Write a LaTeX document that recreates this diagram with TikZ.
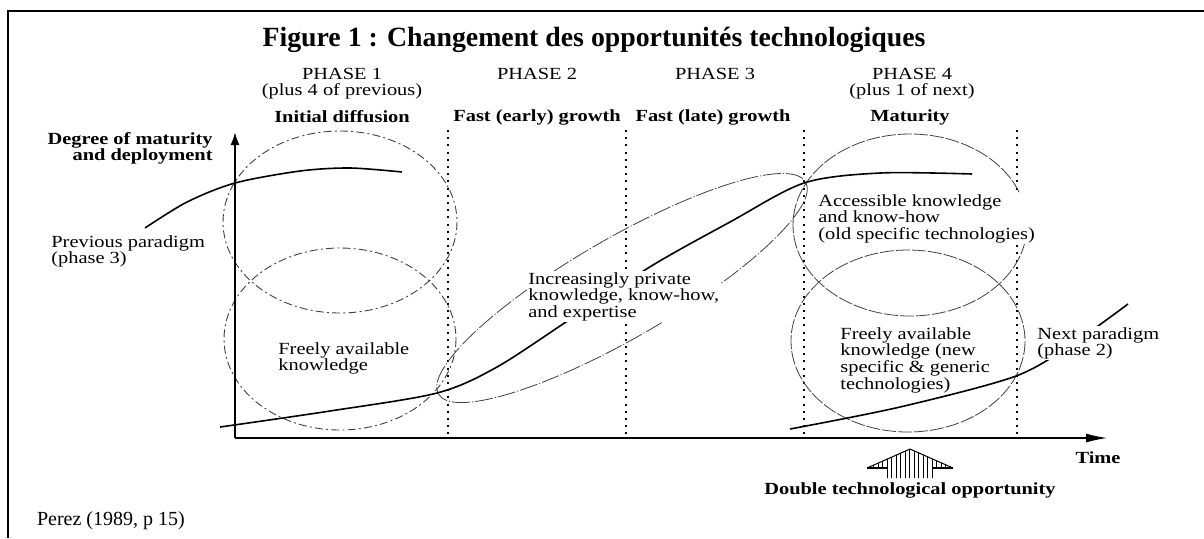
\documentclass[tikz,border=0pt]{standalone}
\usepackage{fontspec}
\setmainfont{Liberation Serif}
\newfontfamily\scanfont[FakeStretch=1.2]{Liberation Serif}
\usetikzlibrary{arrows.meta}

\tikzset{
  phasedot/.style={line width=0.6pt, dash pattern=on 1pt off 2.6pt},
  bubble/.style={line width=0.45pt, black!75, dash pattern=on 4pt off 1.6pt on 1pt off 1.6pt},
  bubblefine/.style={line width=0.4pt, black!75, dash pattern=on 7pt off 1pt},
  privline/.style={line width=0.4pt, black!75, dash pattern=on 9pt off 1pt on 0.6pt off 1pt},
  curve/.style={line width=0.8pt},
  lab/.style={font=\scanfont\fontsize{8.5}{8.3}\selectfont, align=left, inner sep=0.5pt},
  labbold/.style={lab, font=\scanfont\bfseries\fontsize{8.5}{8.3}\selectfont},
}

\begin{document}
\begin{tikzpicture}[x=0.5pt, y=-0.5pt]
				\useasboundingbox (0,0) rectangle (1204,538);
				% frame and title
				\draw [line width=1pt] (8,538) -- (8,11) -- (1204,11);
				\node [font=\bfseries\fontsize{13.9}{16}\selectfont] (title) at (594,40) {Figure 1 : Changement des opportunités technologiques};

				% phase headers
				\node [lab] (ph1) at (342,74) {PHASE 1};
				\node [lab] (ph1b) at (342,91) {(plus 4 of previous)};
				\node [labbold] (ph1c) at (342,117) {Initial diffusion};
				\node [lab] (ph2) at (537,74) {PHASE 2};
				\node [labbold] (ph2c) at (537,117) {Fast (early) growth};
				\node [lab] (ph3) at (715,74) {PHASE 3};
				\node [labbold] (ph3c) at (713,117) {Fast (late) growth};
				\node [lab] (ph4) at (912,74) {PHASE 4};
				\node [lab] (ph4b) at (912,91) {(plus 1 of next)};
				\node [labbold] (ph4c) at (910,117) {Maturity};

				% phase separators
				\foreach \sx in {448,626,804,1017}
					\draw [phasedot] (\sx,130) -- (\sx,434);

				% knowledge bubbles
				\draw [bubble] (340,222) ellipse [x radius=117, y radius=91];
				\draw [bubble] (340,339) ellipse [x radius=116, y radius=91];
				\draw [bubblefine] (910,225) ellipse [x radius=117, y radius=91];
				\draw [bubblefine] (908,341) ellipse [x radius=117, y radius=91];
				\draw [privline, rotate around={30:(622,288)}] (622,288) ellipse [x radius=212, y radius=50];

				% axes
				\coordinate (o) at (235,438);
				\coordinate (ytop) at (235,132);
				\coordinate (xend) at (1108,438);
				\draw [line width=1pt, -{Latex[length=6.5pt, width=4.5pt]}] (o) -- (ytop);
				\draw [line width=1pt, -{Latex[length=11pt, width=4.5pt]}] (o) -- (xend);

				% paradigm curves
				\draw [curve] plot [smooth] coordinates {(145,228) (187,202) (235,183) (300,171) (350,168) (402,172)};
				\draw [curve] plot [smooth] coordinates {(220,427) (330,411) (437,393) (497,367) (572,318) (653,265) (730,222) (804,183) (880,173) (972,174)};
				\draw [curve] plot [smooth] coordinates {(790,429) (900,407) (1016,376) (1075,342) (1128,304)};

				% labels
				\node [labbold, align=right, anchor=north east] (ylab) at (214,131) {Degree of maturity\\and deployment};
				\node [lab, anchor=north west] (prev) at (50,234) {Previous paradigm\\(phase 3)};
				\node [lab, anchor=north west] (free1) at (277,341) {Freely available\\knowledge};
				\node [lab, anchor=north west, fill=white] (priv) at (527,271) {Increasingly private\\knowledge, know-how,\\and expertise};
				\node [lab, anchor=north west, fill=white] (acc) at (817,193) {Accessible knowledge\\and know-how\\(old specific technologies)};
				\node [lab, anchor=north west] (free4) at (839,326) {Freely available\\knowledge (new\\specific \& generic\\technologies)};
				\node [lab, anchor=north west, fill=white] (next) at (1036,326) {Next paradigm\\(phase 2)};
				\node [labbold] (time) at (1098,458) {Time};

				% double opportunity marker
				\begin{scope}
					\clip (867,468) -- (910,449) -- (953,468) -- (933,468) -- (933,478) -- (887,478) -- (887,468) -- cycle;
					\foreach \hx in {869,873.5,...,952}
						\draw [line width=0.5pt] (\hx,445) -- (\hx,480);
				\end{scope}
				\draw [line width=0.5pt] (867,468) -- (910,449) -- (953,468);
				\draw [line width=1.2pt] (867,468) -- (887,468) (933,468) -- (953,468);
				\node [labbold] (dbl) at (910,490) {Double technological opportunity};

				\node [font=\fontsize{10}{12}\selectfont, anchor=west] (src) at (30,521) {Perez (1989, p 15)};
			\end{tikzpicture}
\end{document}
